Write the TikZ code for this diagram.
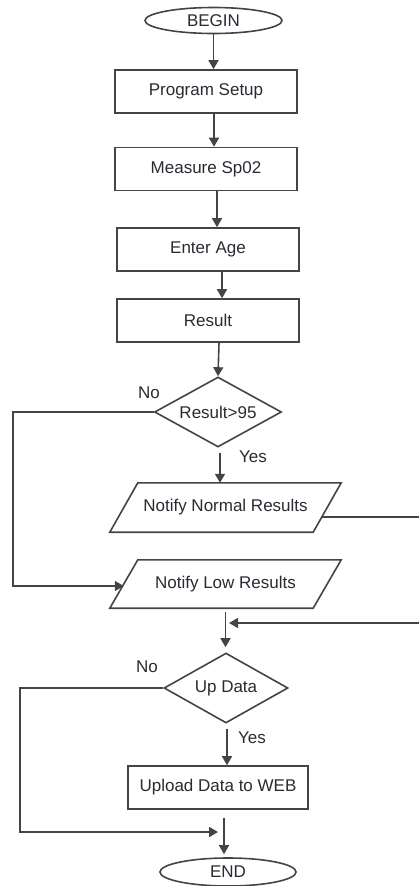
\documentclass[tikz,border=0pt]{standalone}
\usepackage{fontspec}
\setmainfont{Liberation Sans}
\usetikzlibrary{shapes.geometric,arrows.meta,calc}
\definecolor{ink}{HTML}{444444}
\definecolor{txt}{HTML}{2A2A32}
\begin{document}
\begin{tikzpicture}[x=1pt,y=1pt,
  font=\fontsize{17}{20}\selectfont, text=txt,
  line/.style={draw=ink, line width=1.6pt},
  arr/.style={line, -{Triangle[length=9pt,width=10pt]}},
  terminal/.style={ellipse, draw=ink, line width=1.6pt, inner sep=0pt,
    minimum width=137pt, minimum height=26pt},
  stepbox/.style={rectangle, draw=ink, line width=1.6pt, inner sep=0pt,
    minimum width=182pt, minimum height=43pt},
  decision/.style={diamond, draw=ink, line width=1.6pt, inner sep=0pt, aspect=1.8},
  iobox/.style={rectangle, inner sep=0pt, minimum width=203pt, minimum height=49pt},
  lbl/.style={inner sep=0pt}
]
\useasboundingbox (0,0) rectangle (419,-886);

% main column
\node[terminal] (begin) at (213.5,-20.5) {BEGIN};
\node[stepbox] (setup) at (206,-91.5) {Program Setup};
\node[stepbox] (measure) at (206,-169) {Measure Sp02};
\node[stepbox] (age) at (208,-249.5) {Enter Age};
\node[stepbox] (result) at (208,-320.5) {Result};
\node[decision, minimum width=127pt, minimum height=70pt] (check) at (218,-412) {Result>95};
\node[iobox] (normal) at (225.5,-507.5) {Notify Normal Results};
\node[iobox, minimum height=48pt] (low) at (225.5,-584) {Notify Low Results};
\node[decision, minimum width=124pt, minimum height=70pt] (up) at (226,-688) {Up Data};
\node[stepbox, minimum width=180pt] (upload) at (218,-787.5) {Upload Data to WEB};
\node[terminal, minimum width=136pt, minimum height=28pt] (end) at (228,-872) {END};

% parallelogram outlines of the output steps
\foreach \n in {normal,low}
  \draw[line] ([xshift=14pt]\n.north west) -- ([xshift=14pt]\n.north east)
    -- ([xshift=-14pt]\n.south east) -- ([xshift=-14pt]\n.south west) -- cycle;

% branch labels
\node[lbl] (no1) at (149,-393) {No};
\node[lbl] (yes1) at (253,-457) {Yes};
\node[lbl] (no2) at (147,-667) {No};
\node[lbl] (yes2) at (252,-738) {Yes};

% turning points and joins
\coordinate (noturn1) at (13,-412);
\coordinate (noturn2) at (20,-688);
\coordinate (outright) at (432,-517);
\coordinate (join1) at (225.5,-623);
\coordinate (join2) at (224,-832);

% straight flow
\draw[arr] (begin.south) -- (begin.south |- setup.north);
\draw[arr] (setup.south -| 214,0) -- (measure.north -| 214,0);
\draw[arr] (measure.south -| 217,0) -- (age.north -| 217,0);
\draw[arr] (age.south -| 222,0) -- (result.north -| 222,0);
\draw[arr] (result.south -| 219,0) -- (check.north);
\draw[arr, shorten <=5pt] (check.south -| 220,0) -- (normal.north -| 220,0);
\draw[arr, shorten <=4pt, shorten >=5pt] (low.south) -- (low.south |- up.north);
\draw[arr, shorten <=5pt] (up.south -| 227,0) -- (upload.north -| 227,0);
\draw[arr, shorten <=8pt, shorten >=3pt] (upload.south -| 224,0) -- (end.north -| 224,0);

% branches
\draw[arr] (check.west) -- (noturn1) |- ([yshift=-2pt]low.west);
\draw[arr, shorten >=3.5pt] ([xshift=-5.5pt,yshift=-9.5pt]normal.east) -- (outright) |- (join1);
\draw[arr, shorten >=6pt] (up.west) -- (noturn2) |- (join2);
\end{tikzpicture}
\end{document}
